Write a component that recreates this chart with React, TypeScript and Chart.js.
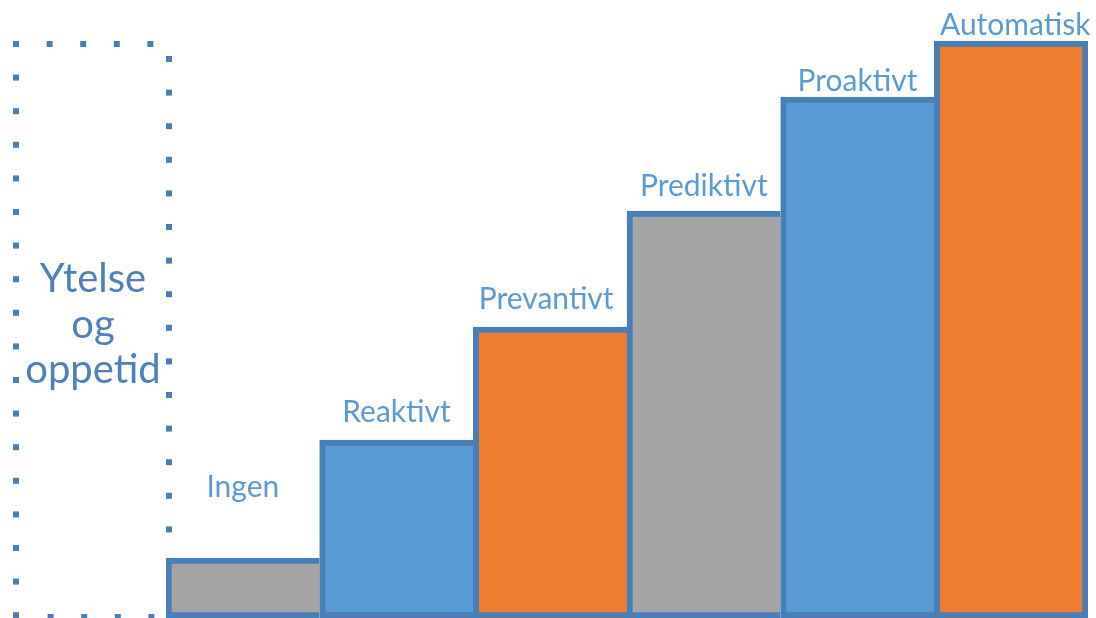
import React, { useEffect, useRef } from "react";
import { Chart, registerables } from "chart.js";

Chart.register(...registerables);

const categories = ["Ingen", "Reaktivt", "Prevantivt", "Prediktivt", "Proaktivt", "Automatisk"];
const values = [60, 178, 291, 407, 521, 577];
const fillColors = ["#A5A5A5", "#5B9BD5", "#ED7D31", "#A5A5A5", "#5B9BD5", "#ED7D31"];
const sideLabel = ["Ytelse", "og", "oppetid"];

const BORDER = "#4A7EB6";
const LABEL_COLOR = "#5B9BD5";
const SIDE_COLOR = "#4E80BC";
// distance from bar top to label baseline (px)
const labelGaps = [61, 18, 18, 15, 6, 6];

const decorPlugin = {
  id: "decor",
  beforeDatasetsDraw(chart: any) {
    const ctx = chart.ctx;
    ctx.save();
    ctx.fillStyle = BORDER;
    const s = 6;
    const step = 33.6;
    const x0 = 16, x1 = 169, y0 = 44, y1 = 617;
    for (let x = x0; x < x1 - 10; x += step) ctx.fillRect(x - s / 2, y0 - s / 2, s, s);
    for (let y = y0; y <= y1 + 2; y += step) ctx.fillRect(x0 - s / 2, y - s / 2, s, s);
    for (let y = y0 + 15; y <= y1; y += step) ctx.fillRect(x1 - s / 2, y - s / 2, s, s);
    for (let x = x0 + step; x < x1 - 10; x += step) ctx.fillRect(x - s / 2 + 1, y1 - s / 2, s, s);

    ctx.fillStyle = SIDE_COLOR;
    ctx.font = "40px Lato, 'Open Sans', sans-serif";
    ctx.textAlign = "center";
    ctx.textBaseline = "alphabetic";
    const bases = [292, 338, 383];
    sideLabel.forEach((t, i) => ctx.fillText(t, 93, bases[i]));
    ctx.restore();
  },
  afterDatasetsDraw(chart: any) {
    const ctx = chart.ctx;
    const meta = chart.getDatasetMeta(0);
    ctx.save();
    ctx.fillStyle = LABEL_COLOR;
    ctx.font = "30px Lato, 'Open Sans', sans-serif";
    ctx.textAlign = "center";
    ctx.textBaseline = "alphabetic";
    meta.data.forEach((el: any, i: number) => {
      ctx.fillText(categories[i], el.x + (i === 5 ? 4 : i === 2 ? -4 : 0), el.y - labelGaps[i]);
    });
    ctx.restore();
  },
};

export default function App() {
  const ref = useRef<HTMLCanvasElement | null>(null);
  useEffect(() => {
    if (!ref.current) return;
    const chart = new Chart(ref.current, {
      type: "bar",
      data: {
        labels: categories,
        datasets: [
          {
            data: values,
            backgroundColor: fillColors,
            borderColor: BORDER,
            borderWidth: values.map((_, i) => ({
              top: 6,
              left: 6,
              bottom: 6,
              right: i === values.length - 1 ? 6 : 0,
            })) as any,
            borderSkipped: false,
            categoryPercentage: 1,
            barPercentage: 1,
          },
        ],
      },
      options: {
        animation: false,
        responsive: false,
        maintainAspectRatio: false,
        layout: { padding: { left: 166, right: 8, top: 0, bottom: 0 } },
        plugins: { legend: { display: false }, tooltip: { enabled: false } },
        scales: {
          x: { display: false },
          y: { display: false, min: 0, max: 618 },
        },
      },
      plugins: [decorPlugin],
    });
    return () => chart.destroy();
  }, []);
  return (
    <div style={{ position: "absolute", left: 0, top: 0, width: 1096, height: 618, background: "#fff" }}>
      <canvas ref={ref} width={1096} height={618} />
    </div>
  );
}
